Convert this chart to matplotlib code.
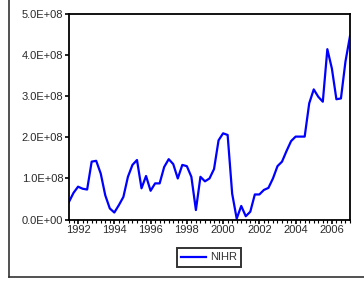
import numpy as np
import matplotlib
matplotlib.use("Agg")
import matplotlib.pyplot as plt
from matplotlib.ticker import MultipleLocator, FuncFormatter

# quarterly series, 1991Q3 .. 2007Q1, values in units of 1E+08
start_year = 1991.5
nihr = [0.43, 0.65, 0.80, 0.75, 0.73, 1.41, 1.43, 1.12, 0.59, 0.27,
        0.17, 0.35, 0.55, 1.04, 1.33, 1.45, 0.76, 1.06, 0.70, 0.88,
        0.88, 1.28, 1.47, 1.35, 1.00, 1.33, 1.30, 1.04, 0.23, 1.04,
        0.93, 1.00, 1.23, 1.93, 2.10, 2.06, 0.63, 0.02, 0.33, 0.08,
        0.19, 0.61, 0.61, 0.72, 0.77, 1.00, 1.30, 1.41, 1.67, 1.91,
        2.02, 2.02, 2.02, 2.83, 3.17, 2.99, 2.87, 4.15, 3.68, 2.93,
        2.95, 3.85, 4.47]
year_labels = [1992, 1994, 1996, 1998, 2000, 2002, 2004, 2006]
y_ticks = [0, 1, 2, 3, 4, 5]

plt.rcParams["font.family"] = ["Liberation Sans", "DejaVu Sans"]
fig = plt.figure(figsize=(3.64, 2.82), dpi=100)
ax = fig.add_axes([69/364, 1-219.5/282, 281/364, (219.5-14.3)/282])

x = start_year + 0.25*np.arange(len(nihr))
y = np.array(nihr)*1e8
ax.plot(x, y, color="#0000ff", lw=1.6, label="NIHR")

ax.set_xlim(start_year, start_year + 0.25*(len(nihr)-1))
ax.set_ylim(0, 5e8)
ax.set_xticks(year_labels)
ax.set_xticklabels([str(v) for v in year_labels])
ax.xaxis.set_minor_locator(MultipleLocator(0.25))
ax.set_yticks([v*1e8 for v in y_ticks])
ax.yaxis.set_major_formatter(FuncFormatter(lambda v, p: f"{v/1e8:.1f}E+08" if v > 0 else "0.0E+00"))

for s in ax.spines.values():
    s.set_linewidth(1.3)
ax.tick_params(axis="both", which="major", direction="out", length=3, width=1.2,
               labelsize=8, labelcolor="#2a2a2a", pad=1)
ax.tick_params(axis="x", which="minor", direction="out", length=2, width=0.8)
ax.tick_params(axis="y", which="minor", length=0)

leg = ax.legend(loc="center", bbox_to_anchor=(209/364, 1-257.5/282), bbox_transform=fig.transFigure,
                frameon=True, fancybox=False, fontsize=8, handlelength=2.2, handletextpad=0.4,
                borderpad=0.4, borderaxespad=0)
leg.get_frame().set_edgecolor("black")
leg.get_frame().set_linewidth(1.4)
for t in leg.get_texts():
    t.set_color("#333333")

# outer frame (left and bottom edges visible)
fig.add_artist(plt.Line2D([9/364, 9/364], [1, 1-277/282], color="#333333", lw=1.2, transform=fig.transFigure))
fig.add_artist(plt.Line2D([9/364, 1], [1-277/282, 1-277/282], color="#333333", lw=1.2, transform=fig.transFigure))

fig.savefig("out.png", dpi=100)
